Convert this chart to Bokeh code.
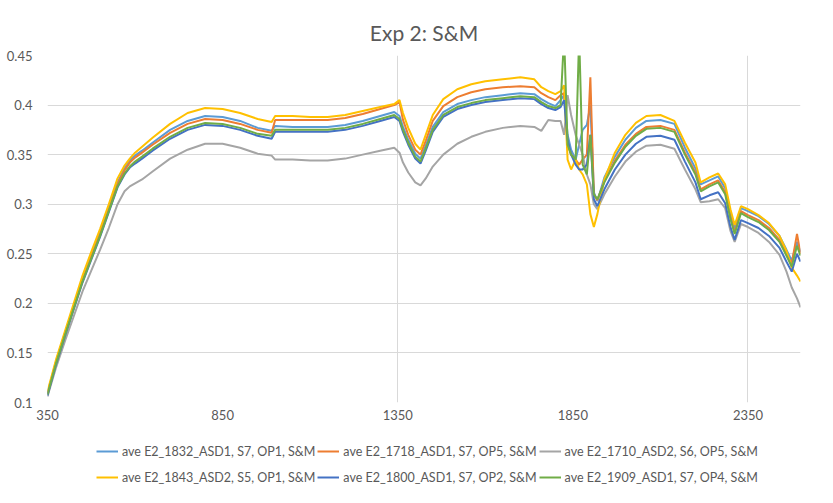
from bokeh.plotting import figure
from bokeh.layouts import column
from bokeh.models import FixedTicker, CustomJSTickFormatter, Legend, LegendItem, Range1d
from bokeh.embed import file_html
from bokeh.resources import INLINE

# wavelength (nm) sample positions shared by all series
wavelength = [350, 375, 400, 425, 450, 475, 500, 525, 550,
              570, 585, 600, 620, 650,
              700, 750, 800, 850, 900, 950, 990,
              1000, 1050, 1100, 1150, 1200, 1250, 1300,
              1340, 1355, 1365, 1380, 1400, 1415, 1430, 1450,
              1480, 1520, 1560, 1600, 1650, 1700,
              1740, 1760, 1780, 1800,
              1815, 1825, 1835, 1845, 1858, 1868, 1878, 1890, 1900, 1910, 1920,
              1940, 1970, 2000, 2030, 2060, 2100, 2140, 2170,
              2200, 2215, 2240, 2265, 2285, 2300, 2312, 2330,
              2350, 2380, 2410, 2440, 2460, 2475, 2490, 2500]

e2_1832 = [0.109, 0.142, 0.170, 0.197, 0.224, 0.248, 0.271, 0.296, 0.322,
           0.336, 0.344, 0.349, 0.354, 0.362,
           0.375, 0.384, 0.389, 0.388, 0.384, 0.377, 0.374,
           0.379, 0.378, 0.378, 0.378, 0.380, 0.384, 0.389,
           0.393, 0.389, 0.378, 0.365, 0.351, 0.346, 0.359, 0.378,
           0.393, 0.401, 0.405, 0.408, 0.410, 0.412,
           0.411, 0.406, 0.402, 0.399,
           0.405, 0.410, 0.370, 0.355, 0.345, 0.360, 0.375, 0.380, 0.400, 0.312, 0.303,
           0.327, 0.348, 0.365, 0.377, 0.384, 0.385, 0.381, 0.357,
           0.336, 0.320, 0.324, 0.328, 0.316, 0.291, 0.276, 0.296,
           0.293, 0.288, 0.280, 0.268, 0.254, 0.243, 0.262, 0.252]

e2_1718 = [0.109, 0.141, 0.169, 0.196, 0.223, 0.247, 0.270, 0.295, 0.320,
           0.334, 0.342, 0.347, 0.352, 0.360,
           0.372, 0.381, 0.386, 0.385, 0.381, 0.375, 0.372,
           0.385, 0.385, 0.385, 0.385, 0.387, 0.391, 0.396,
           0.400, 0.403, 0.385, 0.370, 0.355, 0.350, 0.364, 0.384,
           0.399, 0.408, 0.413, 0.416, 0.418, 0.419,
           0.418, 0.412, 0.408, 0.405,
           0.410, 0.412, 0.360, 0.350, 0.345, 0.340, 0.345, 0.350, 0.428, 0.310, 0.304,
           0.323, 0.344, 0.360, 0.371, 0.378, 0.379, 0.375, 0.352,
           0.332, 0.315, 0.320, 0.324, 0.312, 0.287, 0.272, 0.293,
           0.289, 0.284, 0.276, 0.264, 0.250, 0.240, 0.270, 0.250]

e2_1710 = [0.106, 0.136, 0.162, 0.187, 0.212, 0.233, 0.254, 0.276, 0.300,
           0.313, 0.318, 0.321, 0.325, 0.333,
           0.346, 0.355, 0.361, 0.361, 0.357, 0.351, 0.349,
           0.345, 0.345, 0.344, 0.344, 0.346, 0.350, 0.354,
           0.357, 0.352, 0.342, 0.332, 0.322, 0.319, 0.326, 0.338,
           0.350, 0.361, 0.368, 0.373, 0.377, 0.379,
           0.378, 0.374, 0.385, 0.384,
           0.384, 0.370, 0.410, 0.390, 0.370, 0.360, 0.350, 0.330, 0.320, 0.300, 0.295,
           0.310, 0.328, 0.343, 0.353, 0.359, 0.360, 0.356, 0.335,
           0.315, 0.302, 0.303, 0.305, 0.296, 0.273, 0.262, 0.280,
           0.277, 0.271, 0.262, 0.249, 0.232, 0.216, 0.205, 0.196]

e2_1843 = [0.111, 0.144, 0.172, 0.200, 0.228, 0.252, 0.275, 0.300, 0.326,
           0.339, 0.346, 0.352, 0.358, 0.367,
           0.381, 0.392, 0.397, 0.396, 0.392, 0.386, 0.383,
           0.389, 0.389, 0.388, 0.388, 0.390, 0.394, 0.398,
           0.401, 0.405, 0.392, 0.377, 0.361, 0.355, 0.370, 0.390,
           0.406, 0.416, 0.421, 0.424, 0.426, 0.428,
           0.426, 0.418, 0.414, 0.411,
           0.414, 0.420, 0.345, 0.335, 0.345, 0.335, 0.330, 0.320, 0.290, 0.277, 0.290,
           0.325, 0.352, 0.370, 0.382, 0.389, 0.390, 0.384, 0.362,
           0.342, 0.322, 0.327, 0.331, 0.320, 0.295, 0.279, 0.298,
           0.295, 0.289, 0.281, 0.268, 0.253, 0.236, 0.228, 0.222]

e2_1800 = [0.107, 0.139, 0.167, 0.194, 0.221, 0.244, 0.267, 0.292, 0.317,
           0.330, 0.337, 0.341, 0.346, 0.354,
           0.366, 0.375, 0.380, 0.379, 0.375, 0.369, 0.366,
           0.373, 0.373, 0.373, 0.373, 0.375, 0.379, 0.384,
           0.388, 0.384, 0.373, 0.360, 0.346, 0.341, 0.354, 0.373,
           0.388, 0.396, 0.400, 0.403, 0.405, 0.407,
           0.406, 0.401, 0.397, 0.395,
           0.398, 0.405, 0.365, 0.350, 0.340, 0.335, 0.335, 0.340, 0.370, 0.305, 0.298,
           0.315, 0.335, 0.350, 0.361, 0.368, 0.369, 0.365, 0.343,
           0.322, 0.305, 0.309, 0.312, 0.301, 0.277, 0.264, 0.284,
           0.281, 0.276, 0.268, 0.256, 0.242, 0.232, 0.250, 0.242]

e2_1909 = [0.108, 0.140, 0.168, 0.195, 0.222, 0.245, 0.268, 0.293, 0.318,
           0.331, 0.338, 0.343, 0.348, 0.356,
           0.368, 0.377, 0.382, 0.381, 0.377, 0.371, 0.369,
           0.375, 0.375, 0.375, 0.375, 0.377, 0.381, 0.386,
           0.390, 0.386, 0.375, 0.362, 0.348, 0.343, 0.356, 0.375,
           0.390, 0.398, 0.402, 0.405, 0.407, 0.409,
           0.408, 0.403, 0.399, 0.397,
           0.400, 0.470, 0.360, 0.350, 0.345, 0.470, 0.340, 0.330, 0.370, 0.310, 0.305,
           0.322, 0.342, 0.358, 0.369, 0.376, 0.377, 0.373, 0.350,
           0.330, 0.313, 0.318, 0.322, 0.310, 0.285, 0.270, 0.291,
           0.287, 0.282, 0.274, 0.262, 0.248, 0.237, 0.258, 0.248]

series_names = ["ave E2_1832_ASD1, S7, OP1, S&M",
                "ave E2_1718_ASD1, S7, OP5, S&M",
                "ave E2_1710_ASD2, S6, OP5, S&M",
                "ave E2_1843_ASD2, S5, OP1, S&M",
                "ave E2_1800_ASD1, S7, OP2, S&M",
                "ave E2_1909_ASD1, S7, OP4, S&M"]
series_values = [e2_1832, e2_1718, e2_1710, e2_1843, e2_1800, e2_1909]
series_colors = ["#5B9BD5", "#ED7D31", "#A5A5A5", "#FFC000", "#4472C4", "#70AD47"]

x_ticks = [350, 850, 1350, 1850, 2350]
x_grid = [1350, 2350]
y_ticks = [0.1, 0.15, 0.2, 0.25, 0.3, 0.35, 0.4, 0.45]

TEXT = "#595959"
FONT = "Lato"

# ---------------- main chart ----------------
p = figure(width=817, height=432, output_backend="svg", toolbar_location=None,
           x_range=Range1d(350, 2500), y_range=Range1d(0.1, 0.45),
           title="Exp 2: S&M",
           min_border_left=47, min_border_right=17, min_border_top=55, min_border_bottom=30)

p.title.align = "center"
p.title.text_font = FONT
p.title.text_font_size = "21px"
p.title.text_font_style = "normal"
p.title.text_color = TEXT
p.title.standoff = 22

p.outline_line_color = None
p.background_fill_color = "white"
p.border_fill_color = "white"

for ax in (p.xaxis[0], p.yaxis[0]):
    ax.axis_line_color = None
    ax.major_tick_line_color = None
    ax.minor_tick_line_color = None
    ax.major_tick_out = 0
    ax.major_tick_in = 0
    ax.minor_tick_out = 0
    ax.major_label_text_color = TEXT
    ax.major_label_text_font = FONT
    ax.major_label_text_font_size = "13px"

p.xaxis.ticker = FixedTicker(ticks=x_ticks)
p.xaxis.major_label_standoff = 7
p.yaxis.ticker = FixedTicker(ticks=y_ticks)
p.yaxis.major_label_standoff = 15
p.yaxis.formatter = CustomJSTickFormatter(code="return String(Math.round(tick*100)/100);")

p.ygrid.grid_line_color = "#d9d9d9"
p.xgrid.ticker = FixedTicker(ticks=x_grid)
p.xgrid.grid_line_color = "#d9d9d9"

for name, vals, col in zip(series_names, series_values, series_colors):
    p.line(wavelength, vals, line_color=col, line_width=2)

# ---------------- legend strip below the chart ----------------
# the series are drawn again here only to give the legend its swatches;
# this strip's ranges keep them out of view
lg = figure(width=817, height=55, output_backend="svg", toolbar_location=None,
            x_range=Range1d(0, 1), y_range=Range1d(0, 1),
            x_axis_location=None, y_axis_location=None, min_border=0)
lg.grid.visible = False
lg.outline_line_color = None
lg.background_fill_color = "white"
lg.border_fill_color = "white"

swatches = [lg.line(wavelength, vals, line_color=col, line_width=2)
            for vals, col in zip(series_values, series_colors)]

def make_legend(idx, loc):
    items = [LegendItem(label=series_names[i], renderers=[swatches[i]]) for i in idx]
    return Legend(items=items, orientation="horizontal", location=loc,
                  border_line_color=None, background_fill_alpha=0,
                  label_text_font=FONT, label_text_font_size="12.5px",
                  label_text_color=TEXT, glyph_width=22, glyph_height=20,
                  label_height=20, spacing=2, label_standoff=4, padding=3, margin=0)

lg.add_layout(make_legend([0, 1, 2], (49, 26)), "center")
lg.add_layout(make_legend([3, 4, 5], (49, 0)), "center")

layout = column(p, lg, spacing=0)
open("out.html", "w").write(file_html(layout, INLINE))
